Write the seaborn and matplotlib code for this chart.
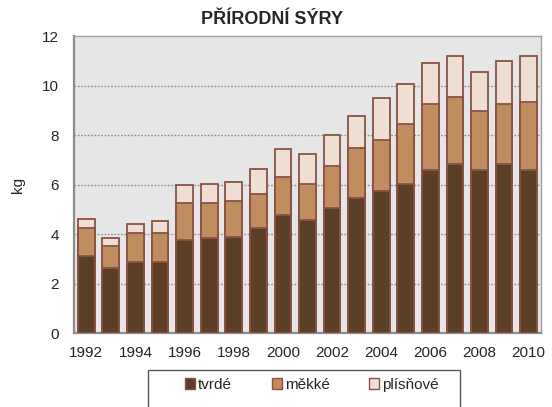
import numpy as np
import pandas as pd
import matplotlib
matplotlib.use("Agg")
import matplotlib.pyplot as plt
import seaborn as sns
from matplotlib.patches import Patch, Rectangle

years = [str(y) for y in range(1992, 2011)]
tvrde = [3.12, 2.63, 2.90, 2.90, 3.77, 3.84, 3.91, 4.27, 4.77, 4.58, 5.05, 5.45, 5.76, 6.05, 6.61, 6.83, 6.61, 6.83, 6.61]
mekke = [1.12, 0.90, 1.14, 1.14, 1.48, 1.41, 1.42, 1.35, 1.56, 1.47, 1.71, 2.02, 2.06, 2.41, 2.64, 2.71, 2.36, 2.42, 2.72]
plisnove = [0.38, 0.31, 0.38, 0.51, 0.73, 0.80, 0.78, 1.01, 1.10, 1.21, 1.23, 1.30, 1.66, 1.59, 1.66, 1.65, 1.59, 1.73, 1.86]
series_names = ["tvrdé", "měkké", "plísňové"]
colors = ["#5C4026", "#C08D5E", "#EEDFD2"]
edge = "#8A5244"

df = pd.DataFrame({"rok": years, "tvrdé": tvrde, "měkké": mekke, "plísňové": plisnove})
df["c1"] = df["tvrdé"]
df["c2"] = df["tvrdé"] + df["měkké"]
df["c3"] = df["c2"] + df["plísňové"]

sns.set_theme(style="white")
plt.rcParams["font.family"] = ["Liberation Sans", "DejaVu Sans"]

fig = plt.figure(figsize=(5.52, 4.07), dpi=100)
ax = fig.add_axes([0.134, 0.1806, 0.846, 0.7309])
ax.set_facecolor("#E6E6E6")

for col, c in zip(["c3", "c2", "c1"], colors[::-1]):
    sns.barplot(data=df, x="rok", y=col, color=c, ax=ax, width=0.68,
                edgecolor=edge, linewidth=1.3, saturation=1, zorder=3)

ax.set_ylim(0, 12)
ax.set_xlim(-0.5, len(years) - 0.5)
ax.set_yticks(np.arange(0, 13, 2))
ax.set_yticklabels([str(v) for v in range(0, 13, 2)], fontsize=11)
for v in range(2, 12, 2):
    ax.axhline(v, color="#8C8C8C", linestyle=(0, (1.2, 1.2)), linewidth=1.0, zorder=1)

ax.set_xticks(range(0, len(years), 2))
ax.set_xticklabels(years[::2], fontsize=11)
ax.set_xticks(np.arange(-0.5, len(years), 1), minor=True)
ax.tick_params(axis="x", which="major", length=0, pad=9)
ax.tick_params(axis="x", which="minor", length=5, width=1.3, color="#8C8C8C", direction="out")
ax.tick_params(axis="y", length=5, width=1.3, color="#8C8C8C", direction="out", pad=6)

ax.set_xlabel("")
ax.set_ylabel("kg", fontsize=11, labelpad=12)
fig.text(0.493, 0.953, "PŘÍRODNÍ SÝRY", fontsize=13, fontweight="bold", ha="center", va="center")

for s in ["left", "bottom"]:
    ax.spines[s].set_color("#8C8C8C")
    ax.spines[s].set_linewidth(1.6)
for s in ["top", "right"]:
    ax.spines[s].set_color("#A0A0A0")
    ax.spines[s].set_linewidth(1.0)

handles = [Patch(facecolor=c, edgecolor=edge, linewidth=1.0) for c in colors]
leg = fig.legend(handles, series_names, loc="center", bbox_to_anchor=(0.565, 0.0545),
                 ncol=3, fontsize=11, frameon=False,
                 handlelength=0.65, handleheight=0.65, handletextpad=0.2,
                 columnspacing=2.6)
fig.add_artist(Rectangle((148 / 552, -0.02), (460 - 148) / 552, (407 - 370) / 407 + 0.02,
                         transform=fig.transFigure, fill=False, edgecolor="#555555",
                         linewidth=1.0))

fig.savefig("out.png", dpi=100)
